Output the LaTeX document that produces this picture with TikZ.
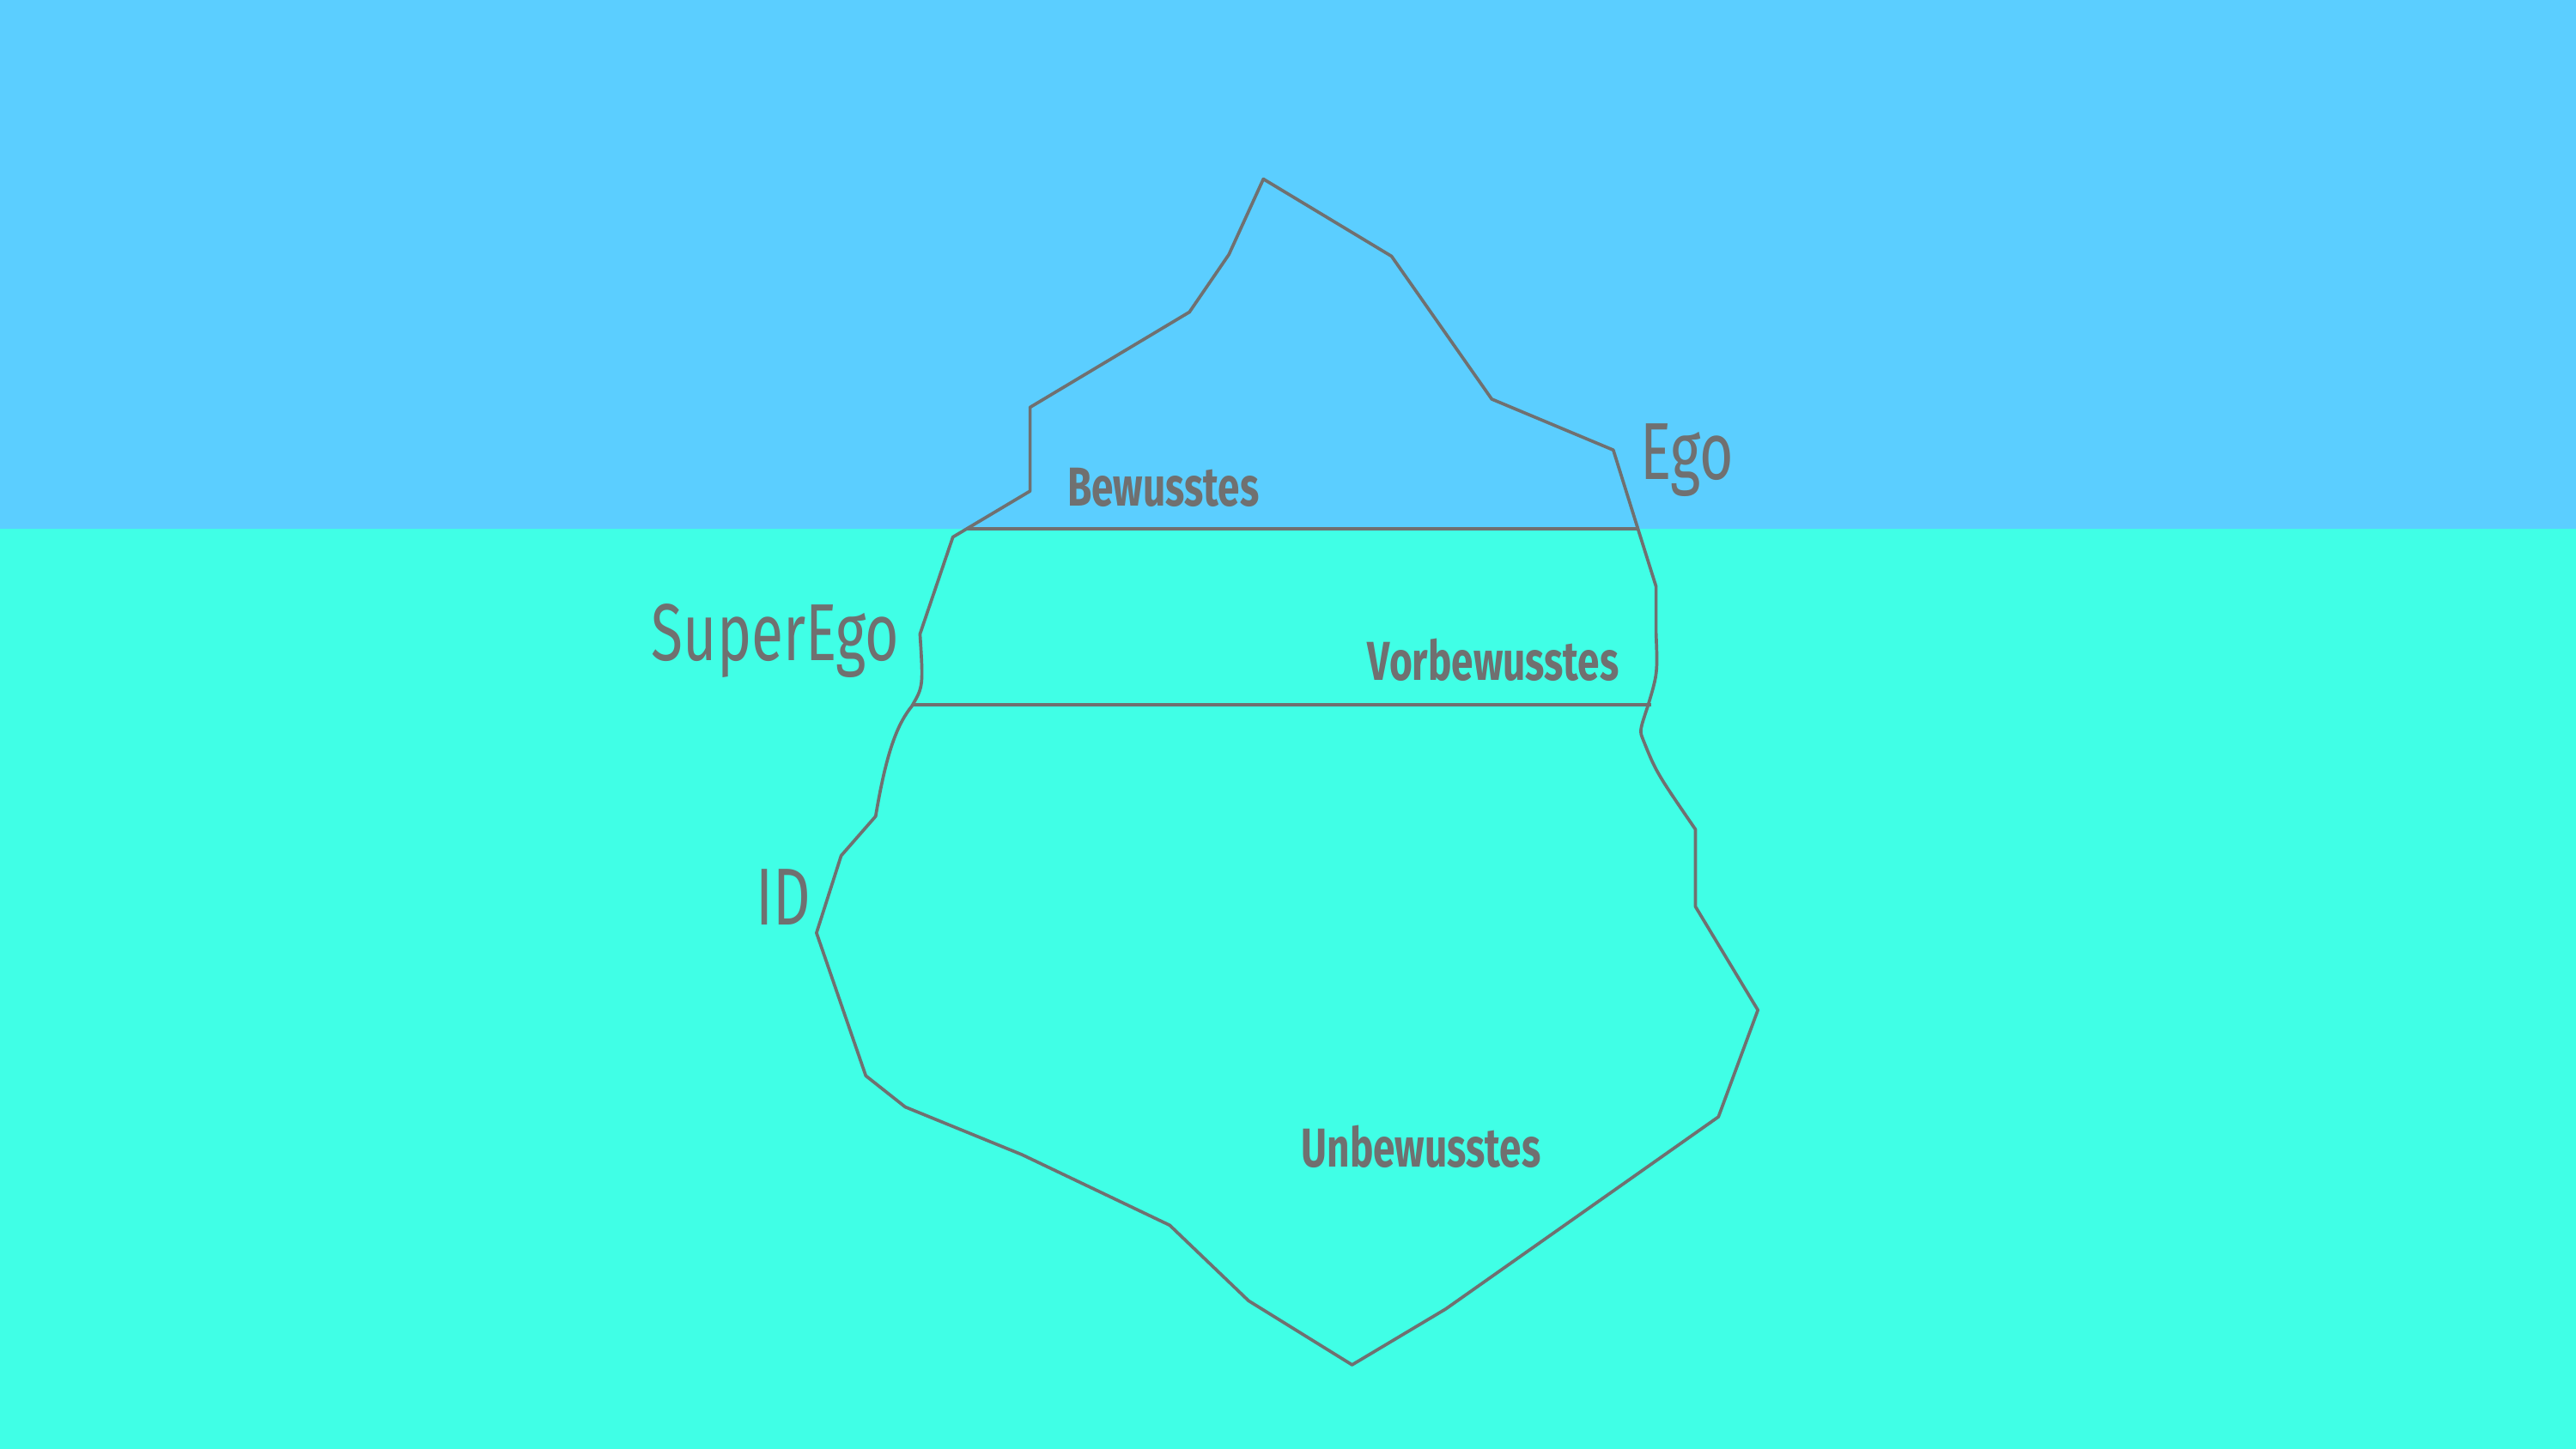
\documentclass[tikz,border=0pt]{standalone}
\usepackage{fontspec}
\setmainfont{Fira Sans}
\definecolor{sky}{HTML}{5BCEFF}
\definecolor{sea}{HTML}{40FFE6}
\definecolor{ink}{HTML}{707070}
\tikzset{
  outline/.style={draw=ink, line width=1.1pt, line join=round},
  zone/.style={text=ink, font=\bfseries\fontsize{19}{22}\selectfont, xscale=0.72, transform shape},
  part/.style={text=ink, font=\fontsize{28}{32}\selectfont, xscale=0.72, transform shape}
}
\begin{document}
\begin{tikzpicture}[x=0.02cm, y=-0.02cm]

% background: sky and water
\fill[sky] (0,0) rectangle (1568,322);
\fill[sea] (0,322) rectangle (1568,882);
\useasboundingbox (0,0) rectangle (1568,882);

% iceberg
\draw[outline] (580,327) -- (627,299) -- (627,248) -- (724,190) -- (748,155)
  -- (769,109) -- (847,156) -- (908,243) -- (982,274) -- (997,322)
  -- (1008,357) -- (1008,385) .. controls (1009,410) .. (1003,430)
  .. controls (998,445) .. (1000,450) .. controls (1008,470) .. (1032,505)
  -- (1032,552) -- (1070,615) -- (1046,680) -- (880,797) -- (823,831)
  -- (760,792) -- (712,746) -- (622,703) -- (551,674) -- (527,655)
  -- (497,568) -- (512,521) -- (533,497) .. controls (540,455) and (547,440) .. (555,430)
  .. controls (562,418) .. (560,386) -- cycle;

% levels
\coordinate (w1) at (588,322);
\coordinate (w2) at (997,322);
\coordinate (v1) at (555,429);
\coordinate (v2) at (1005,429);
\draw[outline] (w1) -- (w2);
\draw[outline] (v1) -- (v2);

% labels
\node[zone] (bew) at (708,297) {Bewusstes};
\node[zone] (vor) at (909,402) {Vorbewusstes};
\node[zone] (unb) at (865,698) {Unbewusstes};
\node[part] (ego) at (1027,280) {Ego};
\node[part] (sup) at (472,390) {SuperEgo};
\node[part] (id) at (477,546) {ID};

\end{tikzpicture}
\end{document}
